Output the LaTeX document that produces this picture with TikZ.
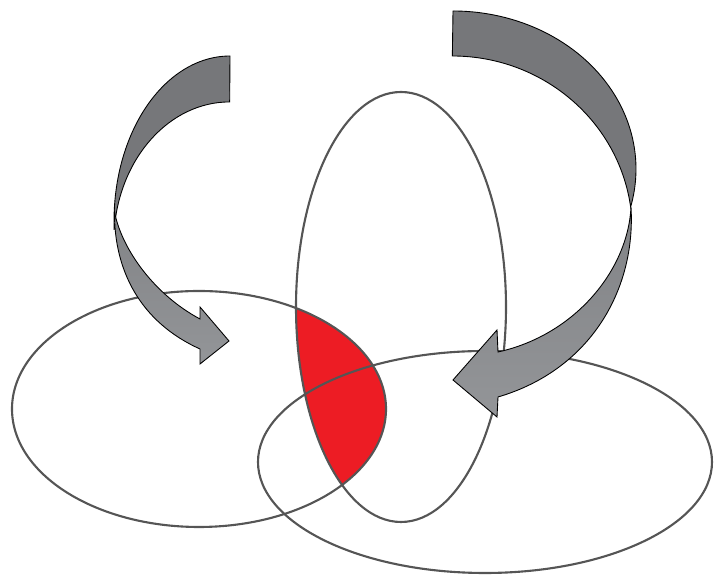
\documentclass[tikz,border=0pt]{standalone}
\definecolor{vennred}{HTML}{ED1C24}
\definecolor{vennline}{HTML}{555555}
\definecolor{arrowdark}{HTML}{76777A}
\definecolor{arrowlight}{HTML}{939598}
\begin{document}
\begin{tikzpicture}[x=0.02cm, y=0.02cm,
  venn/.style={draw=vennline, line width=1.2pt},
  bandtop/.style={draw=black, line width=0.5pt, fill=arrowdark},
  bandlow/.style={draw=black, line width=0.5pt, top color=arrowdark!60!arrowlight, bottom color=arrowlight}]
  \useasboundingbox (0,0) rectangle (714,577);
  % overlap of the left set and the tall set
  \begin{scope}
    \clip (199,168) ellipse (187 and 118);
    \fill[vennred] (401,270) ellipse (105 and 215);
  \end{scope}
  \draw[venn] (199,168) ellipse (187 and 118);
  \draw[venn] (401,270) ellipse (105 and 215);
  \draw[venn] (485,115) ellipse (227 and 111);
  % left arrow
  \draw[bandtop] (230,521) arc[start angle=90, end angle=183.1, x radius=116, y radius=165]
    arc[start angle=174.7, end angle=90, x radius=116, y radius=141] -- cycle;
  \draw[bandlow] (114.5,365) .. controls (114,307) and (140,255) .. (200,228)
    -- (200,213) -- (229,236) -- (200,270) -- (200,258)
    .. controls (155,282) and (122,327) .. (114.5,365) -- cycle;
  % right arrow
  \draw[bandtop] (453,566) arc[start angle=90, end angle=-13.9, x radius=183, y radius=158]
    arc[start angle=7.9, end angle=90, x radius=180, y radius=175] -- cycle;
  \draw[bandlow] (631,370) .. controls (636,287) and (590,207) .. (498,180)
    -- (497,160) -- (453,197) -- (497,247) -- (498,225)
    .. controls (575,242) and (628,307) .. (631,370) -- cycle;
\end{tikzpicture}
\end{document}
